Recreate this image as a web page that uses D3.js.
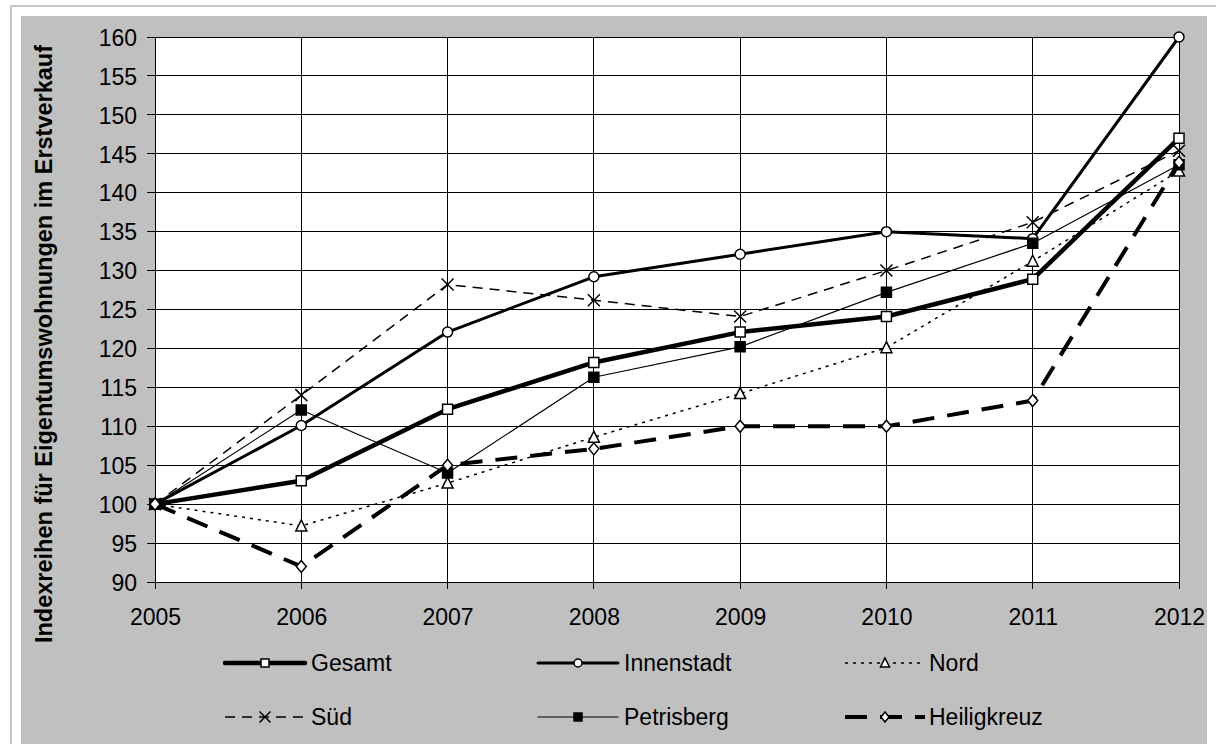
<!DOCTYPE html>
<html>
  <head>
    <meta charset="utf-8">
    <script src="https://cdn.jsdelivr.net/npm/d3@7/dist/d3.min.js"></script>
    <style>
      body { margin: 0; background: #fff; }
      text { font-family: "Liberation Sans", Arial, sans-serif; fill: #000; }
    </style>
  </head>
  <body>
    <svg id="chart"></svg>
    <script>
      // data
      const years = [2005, 2006, 2007, 2008, 2009, 2010, 2011, 2012]
      const gesamt      = [100, 103, 112.2, 118.2, 122.1, 124.1, 128.9, 147]
      const innenstadt  = [100, 110.1, 122.1, 129.2, 132.1, 135, 134.1, 160]
      const nord        = [100, 97.2, 102.7, 108.6, 114.2, 120.1, 131.2, 142.8]
      const sued        = [100, 114, 128.2, 126.2, 124.1, 130, 136.2, 145.4]
      const petrisberg  = [100, 112.1, 104, 116.3, 120.2, 127.2, 133.5, 143.6]
      const heiligkreuz = [100, 92, 105, 107.1, 110, 110, 113.3, 143.9]
      const yTicks = d3.range(90, 161, 5)
      const yTitle = "Indexreihen für Eigentumswohnungen im Erstverkauf"

      const series = [
        {name: "Gesamt", values: gesamt, width: 4.5, dash: null, marker: "square", fill: "#fff"},
        {name: "Innenstadt", values: innenstadt, width: 3, dash: null, marker: "circle", fill: "#fff"},
        {name: "Nord", values: nord, width: 1.5, dash: "3,5", marker: "triangle", fill: "#fff"},
        {name: "Süd", values: sued, width: 1.5, dash: "10,7", marker: "x", fill: "none"},
        {name: "Petrisberg", values: petrisberg, width: 1.2, dash: null, marker: "square", fill: "#000"},
        {name: "Heiligkreuz", values: heiligkreuz, width: 4, dash: "22,13", marker: "diamond", fill: "#fff"}
      ]

      const W = 1216, H = 744
      const plot = {left: 155, right: 1179, top: 37, bottom: 582}

      const svg = d3.select("#chart").attr("width", W).attr("height", H)

      // frame + gray chart area
      svg.append("rect").attr("x", 11).attr("y", 6).attr("width", W).attr("height", H)
        .attr("fill", "#fff").attr("stroke", "#c8c8c8").attr("stroke-width", 2)
      svg.append("rect").attr("x", 21).attr("y", 16).attr("width", 1186).attr("height", H)
        .attr("fill", "#c0c0c0")
      svg.append("rect").attr("x", plot.left).attr("y", plot.top)
        .attr("width", plot.right - plot.left).attr("height", plot.bottom - plot.top)
        .attr("fill", "#fff")

      var xScale = d3.scaleLinear().domain([2005, 2012]).range([plot.left, plot.right])
      var yScale = d3.scaleLinear().domain([90, 160]).range([plot.bottom, plot.top])

      // grid
      const grid = svg.append("g").attr("stroke", "#000").attr("stroke-width", 1).attr("shape-rendering", "crispEdges")
      grid.selectAll(".hg").data(yTicks).enter().append("line")
        .attr("x1", plot.left - 8).attr("x2", plot.right)
        .attr("y1", d => yScale(d)).attr("y2", d => yScale(d))
      grid.selectAll(".vg").data(years).enter().append("line")
        .attr("x1", d => xScale(d)).attr("x2", d => xScale(d))
        .attr("y1", plot.top).attr("y2", plot.bottom + 7)

      // axes (labels only, ticks are drawn with the grid)
      var yAxis = d3.axisLeft(yScale).tickValues(yTicks).tickSize(0).tickPadding(0)
      var xAxis = d3.axisBottom(xScale).tickValues(years).tickFormat(d3.format("d")).tickSize(0).tickPadding(0)

      svg.append("g").attr("transform", `translate(${plot.left - 18}, 0)`).call(yAxis)
        .call(g => g.select(".domain").remove())
        .selectAll("text").attr("font-size", 23).attr("dy", "0.36em").attr("font-family", "Liberation Sans, Arial")
      svg.append("g").attr("transform", `translate(0, ${plot.bottom + 35})`).call(xAxis)
        .call(g => g.select(".domain").remove())
        .selectAll("text").attr("font-size", 23).attr("dy", "0.36em").attr("font-family", "Liberation Sans, Arial")

      svg.append("text")
        .attr("transform", `translate(52, 344) rotate(-90)`)
        .attr("text-anchor", "middle")
        .attr("font-size", 23.5).attr("font-weight", "bold")
        .text(yTitle)

      function markerPath(type, s) {
        const h = s / 2
        if (type == "square") return `M${-h},${-h}H${h}V${h}H${-h}Z`
        if (type == "circle") return `M${-h},0A${h},${h} 0 1,0 ${h},0A${h},${h} 0 1,0 ${-h},0Z`
        if (type == "triangle") return `M0,${-h - 1}L${h + 0.5},${h}H${-h - 0.5}Z`
        if (type == "diamond") return `M0,${-h - 1}L${h},0L0,${h + 1}L${-h},0Z`
        if (type == "x") return `M${-h},${-h}L${h},${h}M${-h},${h}L${h},${-h}`
      }

      var lineMaker = d3.line().x((d, i) => xScale(years[i])).y(d => yScale(d))

      series.forEach(s => {
        const g = svg.append("g")
        g.append("path")
          .attr("fill", "none").attr("stroke", "#000")
          .attr("stroke-width", s.width)
          .attr("stroke-dasharray", s.dash)
          .attr("stroke-linejoin", "round")
          .attr("d", lineMaker(s.values))
        g.selectAll("path.m").data(s.values).enter().append("path")
          .attr("class", "m")
          .attr("transform", (d, i) => `translate(${xScale(years[i])}, ${yScale(d)})`)
          .attr("d", markerPath(s.marker, s.marker == "x" ? 12 : 10))
          .attr("fill", s.fill).attr("stroke", "#000").attr("stroke-width", 1.5)
      })

      // legend: marker centres per column, rows
      const legX = [265, 578, 885]
      const legY = [663, 717]
      series.forEach((s, i) => {
        const lx = legX[i % 3], ly = legY[Math.floor(i / 3)]
        const g = svg.append("g").attr("transform", `translate(${lx}, ${ly})`)
        g.append("line").attr("x1", -40).attr("x2", 40).attr("y1", 0).attr("y2", 0)
          .attr("stroke", "#000").attr("stroke-width", s.width)
          .attr("stroke-dasharray", s.dash)
          .attr("stroke-linecap", s.dash ? "butt" : "round")
        g.append("path")
          .attr("d", markerPath(s.marker, s.marker == "x" ? 11 : 8))
          .attr("fill", s.fill).attr("stroke", "#000").attr("stroke-width", 1.5)
        g.append("text").attr("x", i % 3 == 2 ? 44 : 46).attr("dy", "0.36em")
          .attr("font-size", 23).text(s.name)
      })
    </script>
  </body>
</html>
